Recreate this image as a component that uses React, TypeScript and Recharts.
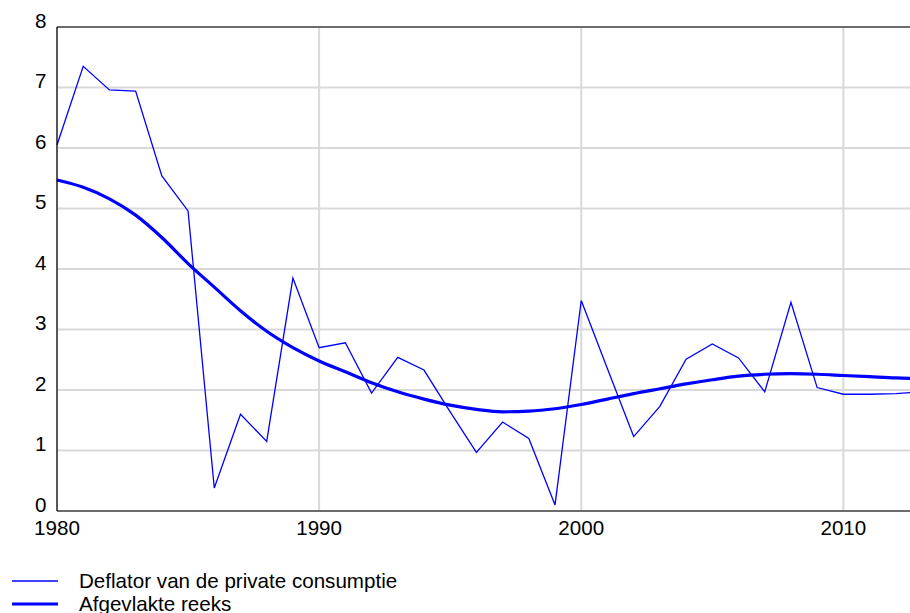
import React from "react";
import {
  LineChart, Line, XAxis, YAxis, CartesianGrid, ReferenceLine,
} from "recharts";

const jaren = [
  1980, 1981, 1982, 1983, 1984, 1985, 1986, 1987, 1988, 1989,
  1990, 1991, 1992, 1993, 1994, 1995, 1996, 1997, 1998, 1999,
  2000, 2001, 2002, 2003, 2004, 2005, 2006, 2007, 2008, 2009,
  2010, 2011, 2012, 2013,
];

const deflator = [
  6.05, 7.35, 6.96, 6.94, 5.54, 4.96, 0.38, 1.6, 1.15, 3.85,
  2.7, 2.78, 1.95, 2.54, 2.33, 1.64, 0.97, 1.47, 1.2, 0.1,
  3.48, 2.35, 1.23, 1.73, 2.51, 2.76, 2.53, 1.97, 3.45, 2.04,
  1.93, 1.93, 1.94, 1.97,
];

const afgevlakt = [
  5.47, 5.35, 5.16, 4.89, 4.52, 4.09, 3.7, 3.31, 2.97, 2.7,
  2.48, 2.3, 2.12, 1.97, 1.85, 1.75, 1.68, 1.64, 1.65, 1.69,
  1.76, 1.85, 1.94, 2.02, 2.1, 2.17, 2.23, 2.26, 2.27, 2.26,
  2.24, 2.22, 2.2, 2.19,
];

const xTicks = [1980, 1990, 2000, 2010];
const yTicks = [0, 1, 2, 3, 4, 5, 6, 7, 8];

const legendItems = [
  { label: "Deflator van de private consumptie", width: 1.5 },
  { label: "Afgevlakte reeks", width: 3.2 },
];

const rows = jaren.map((jaar, i) => ({
  jaar,
  deflator: deflator[i],
  afgevlakt: afgevlakt[i],
}));

const FONT = '"Liberation Sans", Arial, Helvetica, sans-serif';
const BLUE = "#0000ff";
const FS = 20.6;

function XTick(props: any) {
  const { x, y, payload } = props;
  return (
    <text x={x} y={y} dy={23.5} textAnchor="middle" fontSize={FS} fill="#000" fontFamily={FONT}>
      {payload.value}
    </text>
  );
}

function YTick(props: any) {
  const { x, y, payload } = props;
  return (
    <text x={x} y={y} dx={-10.5} dy={0.5} textAnchor="end" fontSize={FS} fill="#000" fontFamily={FONT}>
      {payload.value}
    </text>
  );
}

export default function App() {
  return (
    <div
      style={{
        position: "absolute", left: 0, top: 0, width: 910, height: 613,
        overflow: "hidden", background: "#fff", fontFamily: FONT,
      }}
    >
      <LineChart
        width={922}
        height={541}
        data={rows}
        margin={{ top: 27, right: 0, bottom: 0, left: 0 }}
      >
        <CartesianGrid stroke="#d9d9d9" strokeWidth={2} />
        <XAxis
          dataKey="jaar"
          type="number"
          domain={[1980, 2013]}
          ticks={xTicks}
          height={30}
          tickSize={0}
          tickMargin={0}
          tickLine={false}
          axisLine={{ stroke: "#000", strokeWidth: 1.2 }}
          tick={<XTick />}
        />
        <YAxis
          domain={[0, 8]}
          ticks={yTicks}
          width={57}
          tickSize={0}
          tickMargin={0}
          tickLine={false}
          axisLine={{ stroke: "#000", strokeWidth: 1.2 }}
          tick={<YTick />}
        />
        <ReferenceLine y={8} stroke="#000" strokeWidth={1.2} />
        <Line
          type="linear"
          dataKey="deflator"
          stroke={BLUE}
          strokeWidth={1.3}
          dot={false}
          isAnimationActive={false}
        />
        <Line
          type="monotone"
          dataKey="afgevlakt"
          stroke={BLUE}
          strokeWidth={3.2}
          dot={false}
          isAnimationActive={false}
        />
      </LineChart>
      <div style={{ position: "absolute", left: 0, top: 569 }}>
        {legendItems.map((item) => (
          <div
            key={item.label}
            style={{ display: "flex", height: 23, lineHeight: "23px", fontSize: FS, color: "#000" }}
          >
            <svg width={79} height={23} style={{ display: "block" }}>
              <line x1={12} x2={58} y1={12} y2={12} stroke={BLUE} strokeWidth={item.width} />
            </svg>
            <span style={{ whiteSpace: "nowrap" }}>{item.label}</span>
          </div>
        ))}
      </div>
    </div>
  );
}
